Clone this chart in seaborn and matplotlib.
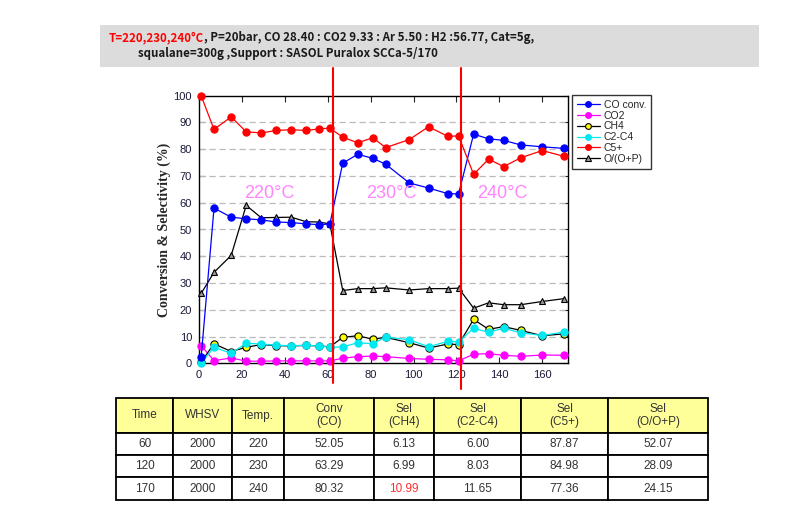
import matplotlib
matplotlib.use("Agg")
import matplotlib.pyplot as plt
from matplotlib.patches import Rectangle
from matplotlib.lines import Line2D
import seaborn as sns
import pandas as pd

# time on stream (h)
time = [1, 7, 15, 22, 29, 36, 43, 50, 56, 61, 67, 74, 81, 87, 98, 107, 116, 121,
        128, 135, 142, 150, 160, 170]

co_conv = [2.2, 58.0, 54.6, 54.0, 53.6, 52.8, 52.6, 52.1, 51.8, 52.05, 74.8, 78.1,
           76.6, 74.4, 67.4, 65.5, 63.4, 63.29, 85.6, 83.9, 83.3, 81.6, 80.9, 80.32]
co2 = [6.6, 1.0, 2.0, 0.8, 0.8, 0.9, 0.9, 0.9, 0.9, 0.9, 1.9, 2.5, 2.7, 2.5, 1.8,
       1.5, 1.3, 0.9, 3.4, 3.6, 3.0, 2.6, 3.1, 3.0]
ch4 = [0.5, 7.3, 4.4, 6.0, 7.0, 6.6, 6.5, 6.7, 6.5, 6.13, 9.7, 10.3, 9.0, 9.7, 7.7,
       5.7, 7.2, 6.99, 16.4, 12.7, 13.7, 12.3, 10.3, 10.99]
c2_c4 = [0.0, 6.0, 3.7, 7.5, 7.2, 6.7, 6.6, 6.7, 6.5, 6.0, 6.1, 7.7, 7.3, 9.8, 8.8,
         6.2, 8.2, 8.03, 13.1, 11.6, 13.1, 11.4, 10.4, 11.65]
c5_plus = [100.0, 87.4, 92.1, 86.5, 86.1, 87.0, 87.3, 87.0, 87.6, 87.87, 84.5, 82.4,
           84.3, 80.6, 83.6, 88.4, 84.8, 84.98, 70.6, 76.3, 73.5, 76.8, 79.5, 77.36]
olefin = [26.1, 34.0, 40.3, 59.0, 54.4, 54.5, 54.6, 52.9, 52.8, 52.07, 27.2, 27.9,
          27.9, 28.2, 27.4, 27.9, 27.9, 28.09, 20.6, 22.6, 21.9, 21.9, 23.1, 24.15]

temp_labels = ["220°C", "230°C", "240°C"]
temp_label_x = [32.6, 89.8, 141.4]
switch_times = [62.3, 121.9]

table_header = ["Time", "WHSV", "Temp.", "Conv\n(CO)", "Sel\n(CH4)", "Sel\n(C2-C4)",
                "Sel\n(C5+)", "Sel\n(O/O+P)"]
table_rows = [
    ["60", "2000", "220", "52.05", "6.13", "6.00", "87.87", "52.07"],
    ["120", "2000", "230", "63.29", "6.99", "8.03", "84.98", "28.09"],
    ["170", "2000", "240", "80.32", "10.99", "11.65", "77.36", "24.15"],
]

df = pd.DataFrame({"time": time, "CO conv.": co_conv, "CO2": co2, "CH4": ch4,
                   "C2-C4": c2_c4, "C5+": c5_plus, "O/(O+P)": olefin})

sns.set_style("ticks")
plt.rcParams["font.family"] = ["Liberation Sans", "DejaVu Sans"]

fig = plt.figure(figsize=(8.05, 5.05), dpi=100)
W, H = 805, 505

# header box
fig.patches.append(Rectangle((100 / W, 1 - 67 / H), 659 / W, 42 / H,
                             transform=fig.transFigure, facecolor="#dcdcdc",
                             edgecolor="none", zorder=0))
tfont = dict(family=["Noto Sans CJK KR", "DejaVu Sans"], fontsize=8.3, weight="bold")
t1 = fig.text(109 / W, 1 - 38 / H, "T=220,230,240°C", color="#ff0000", va="center", **tfont)
fig.canvas.draw()
bb = t1.get_window_extent()
fig.text(bb.x1 / W, 1 - 38 / H,
         ", P=20bar, CO 28.40 : CO2 9.33 : Ar 5.50 : H2 :56.77, Cat=5g,",
         color="#1a1a1a", va="center", **tfont)
fig.text(138 / W, 1 - 54 / H, "squalane=300g ,Support : SASOL Puralox SCCa-5/170",
         color="#1a1a1a", va="center", **tfont)

ax = fig.add_axes([199 / W, 1 - 363.3 / H, 369 / W, 267.6 / H])

styles = {
    "CO conv.": dict(color="#0000ff", marker="o", mfc="#0000ff", mec="#0000ff"),
    "CO2": dict(color="#ff00ff", marker="o", mfc="#ff00ff", mec="#ff00ff"),
    "CH4": dict(color="black", marker="o", mfc="#ffff00", mec="black"),
    "C2-C4": dict(color="#00e8f0", marker="o", mfc="#00e8f0", mec="#00e8f0"),
    "C5+": dict(color="#ff0000", marker="o", mfc="#ff0000", mec="#ff0000"),
    "O/(O+P)": dict(color="black", marker="^", mfc="#999999", mec="black"),
}
order = ["O/(O+P)", "CO2", "CH4", "C2-C4", "CO conv.", "C5+"]
for name in order:
    st = styles[name]
    sns.lineplot(data=df, x="time", y=name, ax=ax, color=st["color"], lw=0.9,
                 marker=st["marker"], markersize=5.2 if st["marker"] == "o" else 4.8,
                 markerfacecolor=st["mfc"], markeredgecolor=st["mec"],
                 markeredgewidth=0.8, clip_on=False, zorder=3, label=name)

ax.set_xlim(0, 172)
ax.set_ylim(0, 100)
ax.set_xticks(range(0, 161, 20))
ax.set_yticks(range(0, 101, 10))
for yv in range(10, 100, 10):
    ax.axhline(yv, color="#bbbbbb", lw=0.9, ls=(0, (5, 3)), zorder=1)
ax.tick_params(direction="in", length=4, width=0.8, top=True, right=True,
               labelsize=8, labelcolor="#1a1a3a", pad=5)
for sp in ax.spines.values():
    sp.set_linewidth(1.0)
    sp.set_color("black")
ax.set_xlabel("")
ax.set_ylabel("Conversion & Selectivity (%)", family="Liberation Serif",
              fontsize=10, weight="bold", labelpad=2)

for lab, xv in zip(temp_labels, temp_label_x):
    ax.text(xv, 63.3, lab, color="#ff85ff", fontsize=13, ha="center", va="center",
            zorder=4)

for xs, yb in zip(switch_times, [-7.4, -9.6]):
    ax.add_line(Line2D([xs, xs], [yb, 110.4], color="#ff0000", lw=1.5,
                       clip_on=False, zorder=5))

leg_order = ["CO conv.", "CO2", "CH4", "C2-C4", "C5+", "O/(O+P)"]
handles, labels = ax.get_legend_handles_labels()
hmap = dict(zip(labels, handles))
leg = ax.legend([hmap[n] for n in leg_order], leg_order, loc="upper left",
                bbox_to_anchor=(572 / W, 1 - 95 / H), bbox_transform=fig.transFigure,
                borderaxespad=0, fontsize=7.5, frameon=True, fancybox=False,
                handlelength=2.2, handletextpad=0.4, labelspacing=0.08,
                borderpad=0.45, markerscale=0.8)
leg.get_frame().set_edgecolor("black")
leg.get_frame().set_linewidth(1.0)

# summary table
tax = fig.add_axes([116 / W, 1 - 500 / H, 592 / W, 102 / H])
tax.axis("off")
col_w = [57, 59, 52, 90, 60, 87, 87, 100]
tot = sum(col_w)
tbl = tax.table(cellText=table_rows, colLabels=table_header,
                colWidths=[c / tot for c in col_w], cellLoc="center",
                bbox=[0, 0, 1, 1])
tbl.auto_set_font_size(False)
tbl.set_fontsize(8.5)
row_h = [35, 22, 22, 23]
for (r, c), cell in tbl.get_celld().items():
    cell.set_height(row_h[r] / 102)
    cell.set_edgecolor("black")
    cell.set_linewidth(1.3)
    cell.get_text().set_color("#333333")
    if r == 0:
        cell.set_facecolor("#ffff99")
    else:
        cell.set_facecolor("white")
tbl[(3, 4)].get_text().set_color("#ff3030")

fig.savefig("out.png", dpi=100)
